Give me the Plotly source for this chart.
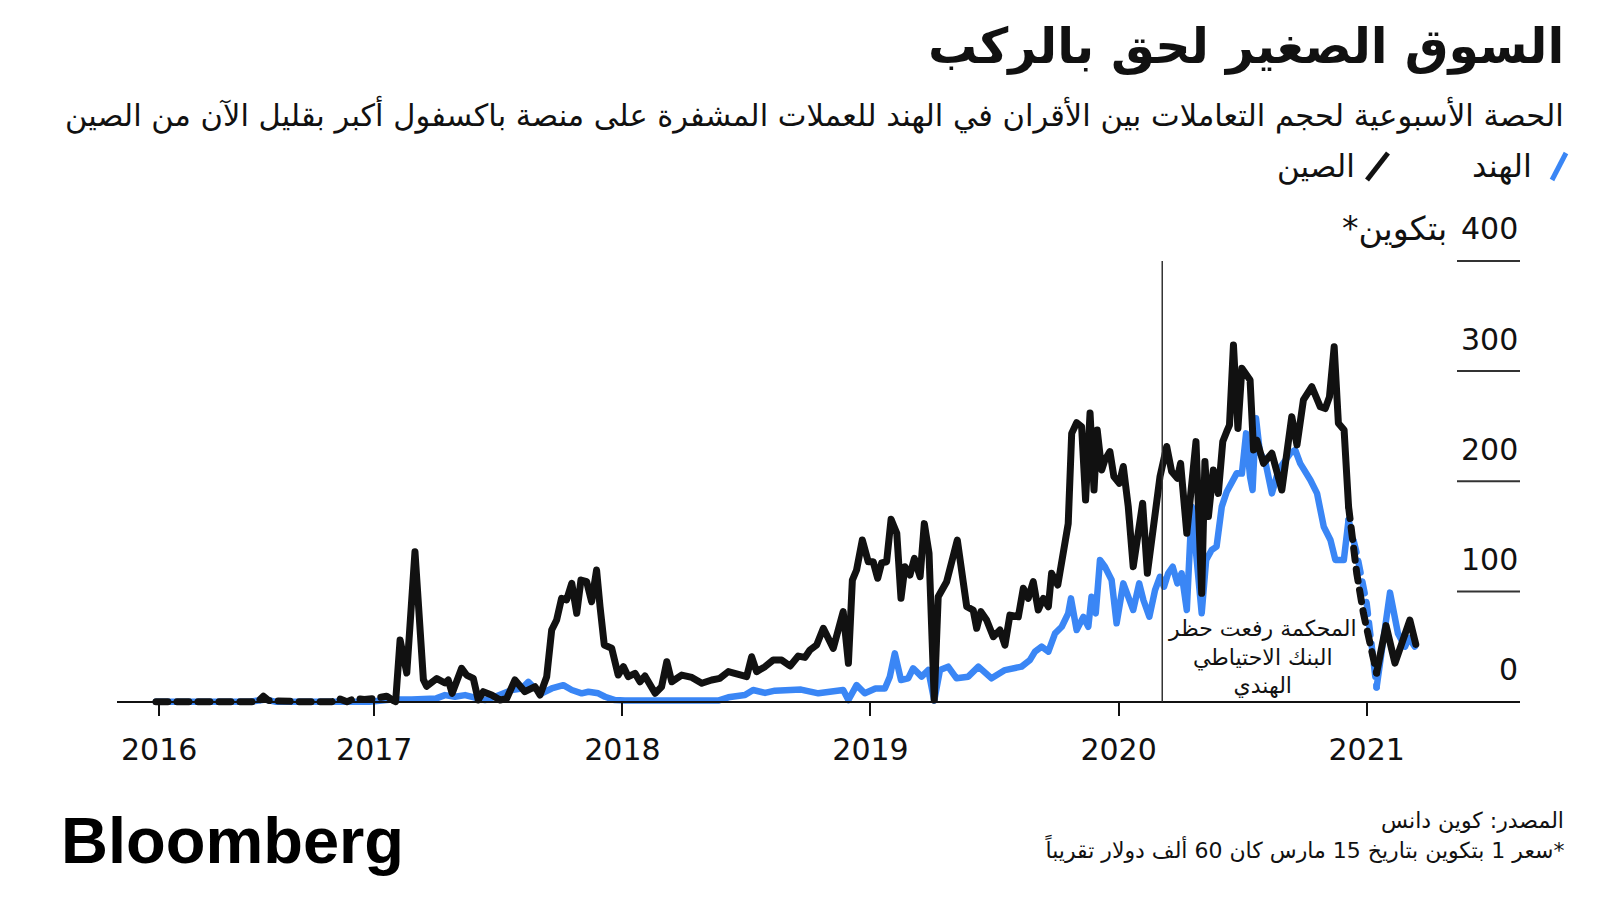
import plotly.graph_objects as go
import pandas as pd

# ---------------- data (decimal years) ----------------
china_years = [
    2016.12, 2016.25, 2016.40, 2016.53, 2016.553, 2016.575, 2016.70, 2016.83, 2016.855, 2016.89,
    2016.922, 2016.96, 2017.003, 2017.05, 2017.077, 2017.086, 2017.104, 2017.131, 2017.164, 2017.184,
    2017.198, 2017.211, 2017.252, 2017.285, 2017.298, 2017.314, 2017.352, 2017.372, 2017.399, 2017.419,
    2017.439, 2017.473, 2017.507, 2017.534, 2017.567, 2017.607, 2017.648, 2017.668, 2017.695, 2017.715,
    2017.735, 2017.755, 2017.775, 2017.796, 2017.816, 2017.833, 2017.856, 2017.876, 2017.896, 2017.91,
    2017.927, 2017.957, 2017.983, 2018.004, 2018.024, 2018.051, 2018.071, 2018.091, 2018.132, 2018.158,
    2018.179, 2018.199, 2018.239, 2018.28, 2018.32, 2018.36, 2018.393, 2018.427, 2018.467, 2018.501,
    2018.521, 2018.541, 2018.575, 2018.608, 2018.642, 2018.676, 2018.709, 2018.736, 2018.756, 2018.783,
    2018.81, 2018.85, 2018.89, 2018.911, 2018.927, 2018.944, 2018.967, 2018.991, 2019.011, 2019.029,
    2019.045, 2019.065, 2019.083, 2019.106, 2019.123, 2019.139, 2019.159, 2019.177, 2019.2, 2019.217,
    2019.236, 2019.257, 2019.273, 2019.307, 2019.35, 2019.388, 2019.414, 2019.428, 2019.445, 2019.468,
    2019.495, 2019.522, 2019.542, 2019.562, 2019.596, 2019.616, 2019.636, 2019.656, 2019.676, 2019.697,
    2019.717, 2019.73, 2019.755, 2019.777, 2019.797, 2019.811, 2019.831, 2019.851, 2019.867, 2019.885,
    2019.901, 2019.914, 2019.932, 2019.945, 2019.965, 2019.981, 2020.003, 2020.019, 2020.039, 2020.059,
    2020.097, 2020.116, 2020.14, 2020.167, 2020.194, 2020.214, 2020.237, 2020.25, 2020.275, 2020.295,
    2020.312, 2020.335, 2020.348, 2020.362, 2020.382, 2020.402, 2020.42, 2020.436, 2020.447, 2020.463,
    2020.481, 2020.497, 2020.517, 2020.53, 2020.544, 2020.557, 2020.584, 2020.618, 2020.658, 2020.698,
    2020.719, 2020.745, 2020.779, 2020.813, 2020.833, 2020.85, 2020.869, 2020.886, 2020.909, 2020.927,
    2020.94, 2020.96, 2020.987, 2021.040, 2021.078, 2021.114, 2021.174, 2021.198,
]
china_values = [
    0, 0, 0, 0, 5, 1, 0, 0, 3, 0,
    3, 2, 3, 5, 1, 0, 56, 26, 136, 74,
    20, 14, 21, 17, 19.7, 7.6, 30.3, 24.2, 21.2, 1.5,
    9.1, 6.1, 1.5, 3, 19.7, 9.1, 13.6, 6.1, 22.7, 65,
    74.2, 93.8, 92.3, 107.4, 80.2, 110.4, 108.9, 90.7, 119.5, 86.2,
    51.5, 48.5, 24.2, 31.8, 22.7, 25.7, 18.1, 23.3, 7.6, 13.6,
    36.3, 18.1, 24.2, 22, 16.7, 19.7, 21.2, 27.3, 24.2, 22.7,
    40.8, 27.3, 31.8, 37.9, 37.8, 32.4, 41.4, 40.2, 46.9, 51.4,
    66.6, 48.4, 81.7, 34.8, 110.4, 119.5, 146.7, 127, 127, 112,
    126, 127, 165.5, 152.8, 93.8, 122.5, 115, 130, 113.4, 161.6,
    134.6, 1.5, 95.3, 108.9, 146.7, 86.2, 83.2, 66.6, 81.7, 74.2,
    59, 65, 51.4, 78.6, 77.1, 102.9, 93.8, 108.9, 83.2, 93.8,
    86.2, 116.5, 105.9, 140.6, 161.6, 243.5, 253.2, 249.6, 183, 262,
    192, 246.5, 210.3, 219.4, 227, 204.3, 198.2, 213.4, 177, 122.5,
    180, 116.5, 158.8, 204.3, 231.6, 208.8, 202.7, 216.3, 152.8, 195.2,
    236, 98.3, 218, 168, 210.3, 189, 236.1, 245.2, 251, 323.7,
    248, 302.5, 296.5, 292, 228.4, 237.5, 216.3, 225.4, 192.1, 258.6,
    233, 273.8, 285.8, 267.6, 266, 276.6, 322.1, 252.7, 246.6, 177,
    146.7, 116.5, 80.2, 26, 69, 35, 74, 52,
]

india_years = [
    2016.12, 2016.50, 2016.56, 2016.60, 2016.98, 2017.07, 2017.15, 2017.25, 2017.285, 2017.325,
    2017.366, 2017.446, 2017.487, 2017.554, 2017.594, 2017.621, 2017.641, 2017.675, 2017.715, 2017.762,
    2017.796, 2017.836, 2017.863, 2017.903, 2017.93, 2017.97, 2018.01, 2018.386, 2018.427, 2018.494,
    2018.527, 2018.575, 2018.615, 2018.669, 2018.72, 2018.79, 2018.85, 2018.89, 2018.911, 2018.944,
    2018.977, 2019.02, 2019.058, 2019.078, 2019.098, 2019.123, 2019.152, 2019.172, 2019.206, 2019.233,
    2019.257, 2019.28, 2019.313, 2019.347, 2019.394, 2019.435, 2019.488, 2019.542, 2019.609, 2019.643,
    2019.663, 2019.69, 2019.717, 2019.744, 2019.771, 2019.797, 2019.808, 2019.831, 2019.858, 2019.878,
    2019.891, 2019.908, 2019.925, 2019.945, 2019.972, 2019.992, 2020.019, 2020.039, 2020.059, 2020.083,
    2020.1, 2020.124, 2020.147, 2020.167, 2020.183, 2020.2, 2020.218, 2020.237, 2020.254, 2020.275,
    2020.295, 2020.315, 2020.335, 2020.353, 2020.375, 2020.395, 2020.416, 2020.436, 2020.456, 2020.476,
    2020.497, 2020.514, 2020.53, 2020.54, 2020.554, 2020.57, 2020.59, 2020.618, 2020.645, 2020.672,
    2020.692, 2020.712, 2020.732, 2020.773, 2020.8, 2020.827, 2020.854, 2020.874, 2020.908, 2020.927,
    2020.96, 2021.0, 2021.040, 2021.094, 2021.126, 2021.155, 2021.17, 2021.194,
]
india_values = [
    0, 0, 2, 0, 0, 2, 2, 3, 6, 4.5,
    6, 1.5, 4.5, 10.6, 12, 18, 13.6, 7.6, 12, 15,
    10.6, 7.6, 9, 7.6, 4.5, 1.5, 1, 1, 4, 6,
    10.6, 8, 10, 10.6, 11, 7.6, 9, 10.6, 1.5, 15,
    7.6, 12, 12, 22.7, 43.9, 19.7, 21.2, 30.3, 22.7, 28.7,
    1, 28.7, 31.8, 21.2, 22.7, 31.8, 21.2, 28.7, 31.8, 37.9,
    45.4, 50, 45.4, 62, 68, 80.2, 93.8, 65, 77, 68,
    95.3, 80.2, 128.6, 122.5, 110.4, 71.1, 107.4, 95.3, 83.2, 107.4,
    92.3, 77.1, 101.3, 113.4, 104.3, 116.5, 122.5, 107.4, 116.5, 83.2,
    177, 128.6, 80.2, 128.6, 137.7, 140.7, 177, 190.5, 198.2, 207.2,
    207, 243.5, 204, 192.1, 257.2, 225.4, 219.4, 189, 210.3, 219.4,
    225.4, 228.4, 216.3, 201.2, 189, 158.8, 146.7, 128.6, 128.6, 164.9,
    134.6, 89.3, 13, 99, 62, 50, 58, 50,
]

china_dashed = [(2016.10, 2017.08), (2020.926, 2021.041)]
india_dashed = [(2020.926, 2021.041)]

x_tick_years = [2016.133, 2017, 2018, 2019, 2020, 2021]
x_tick_labels = ["2016", "2017", "2018", "2019", "2020", "2021"]
y_ticks = [0, 100, 200, 300, 400]
event_year = 2020.176

# ---------------- style ----------------
BLACK = "#111111"
BLUE = "#3A86F5"
AR = "DejaVu Sans"
NUM = "DejaVu Sans"
LAT = "Liberation Sans"

W, H = 1600, 900
ML, MR, MT, MB = 117, 80, 240, 180
PW, PH = W - ML - MR, H - MT - MB


def yr2date(y):
    return pd.Timestamp("2017-01-01") + pd.to_timedelta((y - 2017) * 365.25, unit="D")


def px_x(px):
    return (px - ML) / PW


def px_y(py):
    return (H - MB - py) / PH


def segments(xs, ys, dashed):
    segs = []
    for i in range(len(xs) - 1):
        mid = (xs[i] + xs[i + 1]) / 2
        d = any(a <= mid <= b for a, b in dashed)
        if segs and segs[-1][0] == d:
            segs[-1][1].append(xs[i + 1])
            segs[-1][2].append(ys[i + 1])
        else:
            segs.append([d, [xs[i], xs[i + 1]], [ys[i], ys[i + 1]]])
    return segs


fig = go.Figure()

for xs, ys, dashed, color, width in [
    (india_years, india_values, india_dashed, BLUE, 6.5),
    (china_years, china_values, china_dashed, BLACK, 7),
]:
    for is_dash, sx, sy in segments(xs, ys, dashed):
        fig.add_trace(go.Scatter(
            x=[yr2date(v) for v in sx], y=sy, mode="lines",
            line=dict(color=color, width=width, dash="12px,9px" if is_dash else "solid"),
            hoverinfo="skip", showlegend=False,
        ))

fig.update_layout(
    width=W, height=H,
    margin=dict(l=ML, r=MR, t=MT, b=MB),
    paper_bgcolor="white", plot_bgcolor="white",
    showlegend=False,
    xaxis=dict(
        type="date",
        range=[yr2date(2015.963), yr2date(2021.618)],
        anchor="free", position=px_y(701.7),
        showline=True, linecolor=BLACK, linewidth=2,
        ticks="outside", ticklen=13, tickwidth=2, tickcolor=BLACK,
        tickvals=[yr2date(v) for v in x_tick_years], ticktext=x_tick_labels,
        tickfont=dict(family=NUM, size=30, color=BLACK),
        ticklabelstandoff=8,
        showgrid=False, zeroline=False,
    ),
    yaxis=dict(
        range=[(701.7 - (H - MB)) / 1.102, (701.7 - MT) / 1.102],
        visible=False, showgrid=False, zeroline=False,
    ),
)

shapes = []
annotations = []
for v in y_ticks[1:]:
    shapes.append(dict(type="line", xref="paper", yref="y", x0=px_x(1457), x1=1, y0=v, y1=v,
                       line=dict(color="#333333", width=2)))
for v in y_ticks:
    annotations.append(dict(xref="paper", yref="y", x=1, y=v, yshift=32, xanchor="right", yanchor="middle",
                            text=str(v), showarrow=False, font=dict(family=NUM, size=30, color=BLACK)))
annotations.append(dict(xref="paper", yref="y", x=px_x(1449), y=400, yshift=32, xanchor="right",
                        yanchor="middle", text="*بتكوين", showarrow=False,
                        font=dict(family=AR, size=33, color=BLACK)))

# event line
shapes.append(dict(type="line", xref="x", yref="y", x0=yr2date(event_year), x1=yr2date(event_year),
                   y0=0, y1=400, line=dict(color="#333333", width=1.5)))
annotations.append(dict(xref="paper", yref="paper", x=px_x(1262), y=px_y(657), xanchor="center",
                        yanchor="middle", align="center", showarrow=False,
                        text="المحكمة رفعت حظر<br>البنك الاحتياطي<br>الهندي",
                        font=dict(family=AR, size=22, color=BLACK)))

# title / subtitle
annotations.append(dict(xref="paper", yref="paper", x=px_x(1566), y=px_y(46), xanchor="right",
                        yanchor="middle", showarrow=False, text="<b>السوق الصغير لحق بالركب</b>",
                        font=dict(family=AR, size=49, color=BLACK)))
annotations.append(dict(xref="paper", yref="paper", x=px_x(1566), y=px_y(114), xanchor="right",
                        yanchor="middle", showarrow=False,
                        text="الحصة الأسبوعية لحجم التعاملات بين الأقران في الهند للعملات المشفرة على منصة باكسفول أكبر بقليل الآن من الصين",
                        font=dict(family=AR, size=30.5, color=BLACK)))

# legend
annotations.append(dict(xref="paper", yref="paper", x=px_x(1534), y=px_y(166), xanchor="right",
                        yanchor="middle", showarrow=False, text="الهند",
                        font=dict(family=AR, size=32, color=BLACK)))
annotations.append(dict(xref="paper", yref="paper", x=px_x(1357), y=px_y(166), xanchor="right",
                        yanchor="middle", showarrow=False, text="الصين",
                        font=dict(family=AR, size=31, color=BLACK)))
shapes.append(dict(type="line", xref="paper", yref="paper", x0=px_x(1552), y0=px_y(180),
                   x1=px_x(1566), y1=px_y(153), line=dict(color=BLUE, width=5)))
shapes.append(dict(type="line", xref="paper", yref="paper", x0=px_x(1367), y0=px_y(180),
                   x1=px_x(1388), y1=px_y(153), line=dict(color=BLACK, width=5)))

# footer
annotations.append(dict(xref="paper", yref="paper", x=px_x(59), y=px_y(840), xanchor="left",
                        yanchor="middle", showarrow=False, text="<b>Bloomberg</b>",
                        font=dict(family=LAT, size=65, color="#000000")))
annotations.append(dict(xref="paper", yref="paper", x=px_x(1566), y=px_y(821), xanchor="right",
                        yanchor="middle", showarrow=False, text="المصدر: كوين دانس",
                        font=dict(family=AR, size=22, color=BLACK)))
annotations.append(dict(xref="paper", yref="paper", x=px_x(1566), y=px_y(849), xanchor="right",
                        yanchor="middle", showarrow=False,
                        text="سعر 1 بتكوين بتاريخ 15 مارس كان 60 ألف دولار تقريباً*",
                        font=dict(family=AR, size=22, color=BLACK)))

fig.update_layout(shapes=shapes, annotations=annotations)

post = """
document.body.style.margin='0';
document.body.style.overflow='hidden';
document.querySelectorAll('.js-line').forEach(function(p){
  p.style.strokeLinejoin='round'; p.style.strokeLinecap='round';
});
"""
fig.write_html("out.html", post_script=post, config={"displayModeBar": False})
